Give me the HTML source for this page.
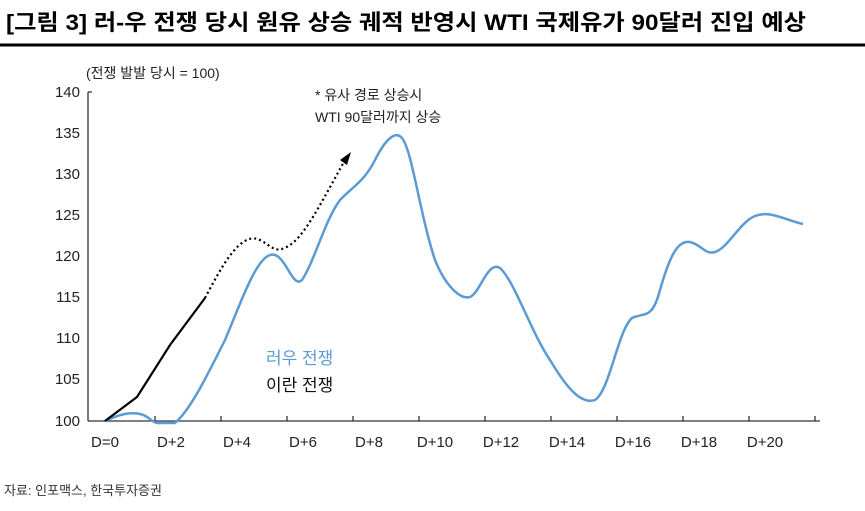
<!DOCTYPE html>
<html><head><meta charset="utf-8"><style>
body{margin:0;background:#fff;width:865px;height:506px;overflow:hidden;font-family:"Liberation Sans","Noto Sans CJK KR",sans-serif}
</style></head><body>
<svg width="865" height="506" xmlns="http://www.w3.org/2000/svg" font-family="Liberation Sans, Noto Sans CJK KR, sans-serif">
<text x="6" y="30" font-size="22" font-weight="bold" fill="#000" textLength="800" lengthAdjust="spacingAndGlyphs">[그림 3] 러-우 전쟁 당시 원유 상승 궤적 반영시 WTI 국제유가 90달러 진입 예상</text>
<line x1="0" y1="45" x2="865" y2="45" stroke="#000" stroke-width="3"/>
<text x="86" y="78" font-size="14" fill="#222">(전쟁 발발 당시 = 100)</text>
<g font-size="15" fill="#222" text-anchor="end">
<text x="80" y="97">140</text><text x="80" y="138">135</text><text x="80" y="179">130</text><text x="80" y="261">120</text><text x="80" y="220">125</text><text x="80" y="302">115</text><text x="80" y="343">110</text><text x="80" y="384">105</text><text x="80" y="426">100</text>
</g>
<g stroke="#333" stroke-width="1.3" fill="none">
<line x1="88" y1="92" x2="88" y2="421"/><line x1="88" y1="92" x2="92" y2="92"/>
<line x1="88" y1="421" x2="820" y2="421"/>
<path d="M155 421v-5M221 421v-5M287 421v-5M353 421v-5M419 421v-5M485 421v-5M551 421v-5M617 421v-5M683 421v-5M749 421v-5M815 421v-5"/>
</g>
<g font-size="15" fill="#222" text-anchor="middle">
<text x="105" y="447">D=0</text><text x="171" y="447">D+2</text><text x="237" y="447">D+4</text><text x="303" y="447">D+6</text><text x="369" y="447">D+8</text><text x="435" y="447">D+10</text><text x="501" y="447">D+12</text><text x="567" y="447">D+14</text><text x="633" y="447">D+16</text><text x="699" y="447">D+18</text><text x="765" y="447">D+20</text>
</g>
<path d="M105 421 C120 414,130 412,140 414 C150 416,152 424,160 423 L175 423 C190 410,205 380,225 340 C240 305,255 260,270 255 C285 250,292 290,302 280 C315 260,325 220,340 200 C355 185,365 180,375 160 C385 140,395 130,402 138 C412 150,420 215,435 260 C445 285,460 300,470 297 C480 293,488 260,500 268 C515 282,530 330,550 360 C565 385,580 405,595 400 C610 390,618 330,632 318 C645 312,652 320,660 290 C670 255,678 240,690 242 C702 245,705 255,715 252 C728 248,740 222,755 216 C770 210,785 220,803 224" fill="none" stroke="#5b9bd5" stroke-width="2.5"/>
<polyline points="105,421 137,397 170,345 205,298" fill="none" stroke="#000" stroke-width="2.2"/>
<path d="M205 298 C220 270,240 230,260 240 C272 246,275 255,290 245 C305 235,320 205,345 160" fill="none" stroke="#000" stroke-width="2.2" stroke-dasharray="2,3"/>
<polygon points="351,152 340,160 347,165" fill="#000"/>
<text x="315" y="100" font-size="14" fill="#222">* 유사 경로 상승시</text>
<text x="315" y="122" font-size="14" fill="#222">WTI 90달러까지 상승</text>
<text x="266" y="364" font-size="17" fill="#5b9bd5">러우 전쟁</text>
<text x="266" y="391" font-size="17" fill="#111">이란 전쟁</text>
<text x="4" y="495" font-size="13" fill="#333">자료: 인포맥스, 한국투자증권</text>
</svg>
</body></html>
